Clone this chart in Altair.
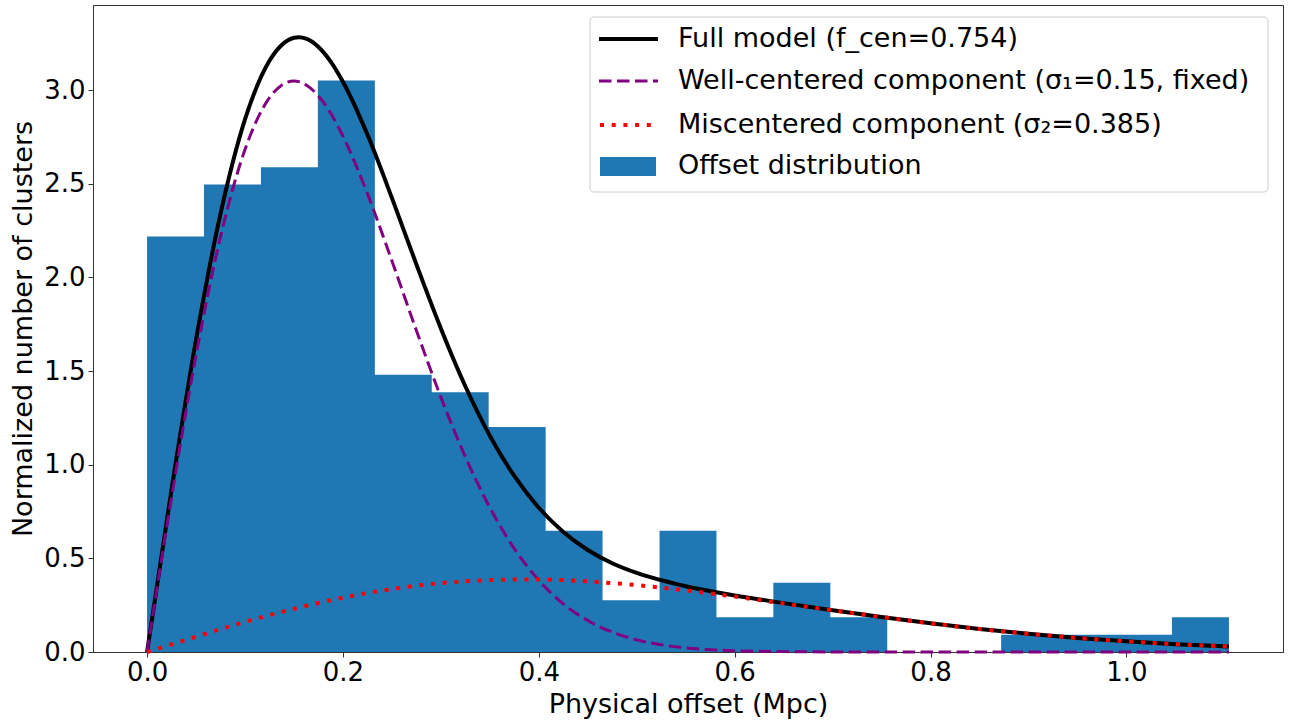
import altair as alt
import pandas as pd

# Histogram: bin edges (Mpc) and normalized heights
bin_edges = [0.0, 0.0581, 0.1163, 0.1744, 0.2326, 0.2907, 0.3488, 0.4070, 0.4651, 0.5233,
             0.5814, 0.6395, 0.6977, 0.7558, 0.8140, 0.8721, 0.9302, 0.9884, 1.0465, 1.1047]
bin_heights = [2.219, 2.497, 2.589, 3.052, 1.480, 1.387, 1.202, 0.647, 0.277, 0.647,
               0.185, 0.370, 0.185, 0.0, 0.0, 0.0925, 0.0925, 0.0925, 0.185]

# Curves
curve_x = [0.0, 0.025, 0.05, 0.075, 0.1, 0.125, 0.1375, 0.15, 0.155, 0.1625, 0.175, 0.1875, 0.2,
           0.225, 0.25, 0.275, 0.3, 0.325, 0.35, 0.375, 0.4, 0.425, 0.45, 0.475, 0.5, 0.55,
           0.6, 0.65, 0.7, 0.75, 0.8, 0.85, 0.9, 0.95, 1.0, 1.05, 1.1047]
full_model = [0.0, 0.868, 1.667, 2.340, 2.844, 3.157, 3.241, 3.280, 3.283, 3.275, 3.231, 3.153, 3.045,
              2.763, 2.425, 2.070, 1.728, 1.419, 1.155, 0.940, 0.770, 0.641, 0.545, 0.474, 0.422, 0.351,
              0.302, 0.261, 0.223, 0.187, 0.153, 0.123, 0.097, 0.075, 0.057, 0.042, 0.030]
well_centered = [0.0, 0.826, 1.585, 2.218, 2.683, 2.960, 3.027, 3.049, 3.046, 3.028, 2.969, 2.877, 2.755,
                 2.448, 2.089, 1.717, 1.361, 1.042, 0.771, 0.552, 0.383, 0.257, 0.168, 0.106, 0.065, 0.022,
                 0.007, 0.002, 0.0004, 0.0, 0.0, 0.0, 0.0, 0.0, 0.0, 0.0, 0.0]
miscentered = [0.0, 0.041, 0.082, 0.122, 0.161, 0.197, 0.214, 0.231, 0.237, 0.247, 0.262, 0.276, 0.290,
               0.315, 0.336, 0.354, 0.368, 0.378, 0.384, 0.387, 0.387, 0.384, 0.377, 0.368, 0.357, 0.329,
               0.296, 0.259, 0.223, 0.187, 0.153, 0.123, 0.097, 0.075, 0.057, 0.042, 0.030]

legend_labels = ["Full model (f_cen=0.754)",
                 "Well-centered component (σ₁=0.15, fixed)",
                 "Miscentered component (σ₂=0.385)",
                 "Offset distribution"]

BLUE = "#1f77b4"
FONT = "DejaVu Sans"
TEXT_SIZE = 27
TICK_SIZE = 26
WELL_DASH = [12.5, 5.5]
MIS_DASH = [4, 7.7]

# step outline of the histogram (last height repeated to close the final bin)
hist_df = pd.DataFrame({"x": bin_edges, "h": bin_heights + [bin_heights[-1]]})
curve_df = pd.DataFrame({"x": curve_x, "full": full_model, "well": well_centered, "mis": miscentered})

xscale = alt.Scale(domain=[-0.0552, 1.1599], nice=False, zero=False)
yscale = alt.Scale(domain=[0, 3.455], nice=False, zero=False)

xaxis = alt.Axis(title="Physical offset (Mpc)", values=[0.0, 0.2, 0.4, 0.6, 0.8, 1.0], format=".1f",
                 grid=False, tickSize=5, labelPadding=2, titlePadding=6)
yaxis = alt.Axis(title="Normalized number of clusters", values=[0.0, 0.5, 1.0, 1.5, 2.0, 2.5, 3.0],
                 format=".1f", grid=False, tickSize=5, labelPadding=3, titlePadding=6)

bars = alt.Chart(hist_df).mark_area(color=BLUE, interpolate="step-after", opacity=1).encode(
    x=alt.X("x:Q", scale=xscale, axis=xaxis),
    y=alt.Y("h:Q", scale=yscale, axis=yaxis),
)

base = alt.Chart(curve_df)
full_line = base.mark_line(color="black", strokeWidth=4, interpolate="monotone").encode(
    x=alt.X("x:Q", scale=xscale), y=alt.Y("full:Q", scale=yscale))
well_line = base.mark_line(color="purple", strokeWidth=3, strokeDash=WELL_DASH, interpolate="monotone").encode(
    x=alt.X("x:Q", scale=xscale), y=alt.Y("well:Q", scale=yscale))
mis_line = base.mark_line(color="red", strokeWidth=4, strokeDash=MIS_DASH, interpolate="monotone").encode(
    x=alt.X("x:Q", scale=xscale), y=alt.Y("mis:Q", scale=yscale))

one = alt.Data(values=[{"a": 1}])

legend_box = alt.Chart(one).mark_rect(fill="white", fillOpacity=0.8, stroke="#cccccc",
                                      strokeWidth=1, cornerRadius=4).encode(
    x=alt.value(497), x2=alt.value(1175), y=alt.value(12), y2=alt.value(187))

row_y = [34, 76, 120, 161]
leg_full = alt.Chart(one).mark_rule(color="black", strokeWidth=4).encode(
    x=alt.value(506), x2=alt.value(565), y=alt.value(row_y[0]))
leg_well = alt.Chart(one).mark_rule(color="purple", strokeWidth=3, strokeDash=WELL_DASH).encode(
    x=alt.value(506), x2=alt.value(565), y=alt.value(row_y[1]))
leg_mis = alt.Chart(one).mark_rule(color="red", strokeWidth=4, strokeDash=MIS_DASH).encode(
    x=alt.value(507), x2=alt.value(565), y=alt.value(row_y[2]))
leg_bar = alt.Chart(one).mark_rect(color=BLUE).encode(
    x=alt.value(507), x2=alt.value(563), y=alt.value(row_y[3] - 9), y2=alt.value(row_y[3] + 10))

leg_texts = [
    alt.Chart(one).mark_text(align="left", baseline="middle", font=FONT, fontSize=TEXT_SIZE,
                             color="black").encode(
        x=alt.value(585), y=alt.value(ry), text=alt.value(lbl))
    for lbl, ry in zip(legend_labels, row_y)
]

chart = alt.layer(
    bars, full_line, well_line, mis_line,
    legend_box, leg_full, leg_well, leg_mis, leg_bar, *leg_texts
).properties(
    width=1190, height=647,
    padding={"left": 93, "top": 5, "right": 7, "bottom": 71},
    autosize=alt.AutoSizeParams(type="none"),
).configure_view(
    stroke="#333333", strokeWidth=1
).configure_axis(
    labelFont=FONT, titleFont=FONT, labelFontSize=TICK_SIZE, titleFontSize=TEXT_SIZE,
    labelColor="black", titleColor="black", titleFontWeight="normal",
    domainColor="#333333", tickColor="#333333", domainWidth=1
)

chart.save("out.html", embed_options={"renderer": "svg", "actions": False})
